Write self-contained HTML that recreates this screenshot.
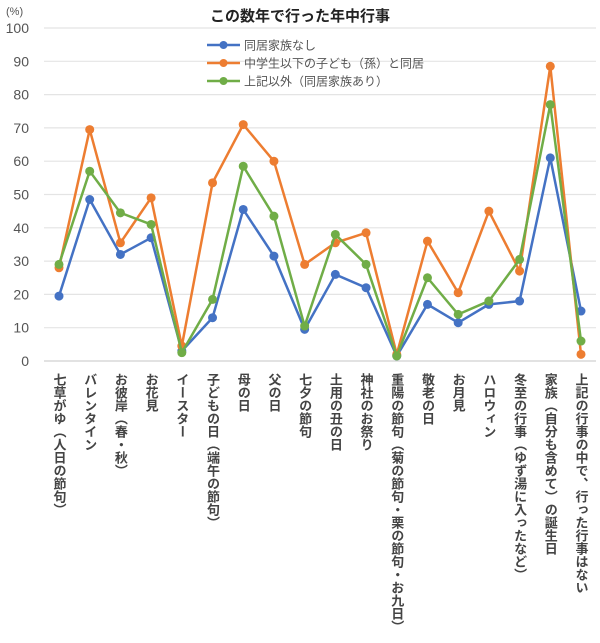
<!DOCTYPE html>
<html><head><meta charset="utf-8"><style>
body{margin:0;background:#fff;width:600px;height:638px;overflow:hidden;font-family:"Liberation Sans","Noto Sans CJK JP",sans-serif}
svg text{font-family:"Liberation Sans","Noto Sans CJK JP",sans-serif}
</style></head><body>
<svg id="c" width="600" height="638"></svg>
<script>
const categories=["七草がゆ（人日の節句）","バレンタイン","お彼岸（春・秋）","お花見","イースター","子どもの日（端午の節句）","母の日","父の日","七夕の節句","土用の丑の日","神社のお祭り","重陽の節句（菊の節句・栗の節句・お九日）","敬老の日","お月見","ハロウィン","冬至の行事（ゆず湯に入ったなど）","家族（自分も含めて）の誕生日","上記の行事の中で、行った行事はない"];
const seriesNames=["同居家族なし","中学生以下の子ども（孫）と同居","上記以外（同居家族あり）"];
const blue=[19.5,48.5,32,37,3,13,45.5,31.5,9.5,26,22,1.5,17,11.5,17,18,61,15];
const orange=[28,69.5,35.5,49,4.5,53.5,71,60,29,35.5,38.5,2,36,20.5,45,27,88.5,2];
const green=[29,57,44.5,41,2.5,18.5,58.5,43.5,10.5,38,29,1.5,25,14,18,30.5,77,6];
const yTicks=[0,10,20,30,40,50,60,70,80,90,100];
const colors=["#4472c4","#ed7d31","#70ad47"];
const svg=document.getElementById('c');const NS="http://www.w3.org/2000/svg";
function mk(t,a,p){const e=document.createElementNS(NS,t);for(const k in a)e.setAttribute(k,a[k]);(p||svg).appendChild(e);return e;}
const y=v=>361-v*3.33;
const x=i=>59+i*(522/(categories.length-1));
const tt=mk('text',{x:300,y:21,'text-anchor':'middle','font-size':15,'font-weight':'bold',fill:'#222'});tt.textContent="この数年で行った年中行事";

const u=mk('text',{x:6,y:15,'font-size':11,fill:'#555'});u.textContent="(%)";

yTicks.forEach(v=>{
 const g=mk('line',{x1:44,x2:596,y1:y(v),y2:y(v),stroke:v===0?'#d0d0d0':'#e4e4e4','stroke-width':1.2});
 
 const t=mk('text',{x:29,y:y(v)+5,'text-anchor':'end','font-size':14,fill:'#555'});t.textContent=v;
 
});
categories.forEach((c,i)=>{
 const t=mk('text',{x:x(i),y:373,'font-size':13,'font-weight':'bold',fill:'#444','writing-mode':'tb','glyph-orientation-vertical':0,style:'writing-mode:vertical-rl'});
 t.textContent=c;
 
});
[blue,orange,green].forEach((s,k)=>{
 const p=mk('polyline',{points:s.map((v,i)=>x(i)+','+y(v)).join(' '),fill:'none',stroke:colors[k],'stroke-width':2.5});
 
 s.forEach((v,i)=>{const d=mk('circle',{cx:x(i),cy:y(v),r:4.5,fill:colors[k]});
  });
});
seriesNames.forEach((n,k)=>{
 const ly=45+k*18;
 const l=mk('line',{x1:207,x2:240,y1:ly,y2:ly,stroke:colors[k],'stroke-width':2.5});
 
 const c=mk('circle',{cx:223.5,cy:ly,r:4,fill:colors[k]});
 
 const t=mk('text',{x:244,y:ly+4.5,'font-size':12,fill:'#555'});t.textContent=n;
 
});
</script>
</body></html>
